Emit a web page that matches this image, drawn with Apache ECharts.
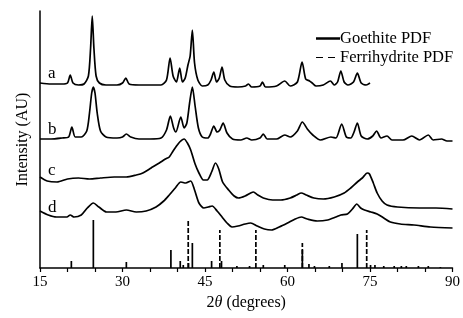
<!DOCTYPE html>
<html>
<head>
<meta charset="utf-8">
<script src="https://cdn.jsdelivr.net/npm/echarts@6/dist/echarts.min.js"></script>
<style>
  html, body { margin: 0; padding: 0; background: #fff; }
  #chart { width: 463px; height: 318px; }
</style>
</head>
<body>
<div id="chart"></div>
<script>
  // x = 2theta (deg), y = intensity in arbitrary units (offset per trace)
  var curveA = [[15,185],[17,184],[19,184],[20.0,185],[20.5,193],[21.0,185],[22,183],[23,184],[23.8,192],[24.2,220],[24.5,252],[24.8,220],[25.2,192],[25.8,185],[27,183],[29,183],[30.0,185],[30.6,190],[31.2,184],[33,183],[35,183],[37,183],[38.0,188],[38.65,210],[39.2,192],[39.8,186],[40.4,200],[40.9,186],[41.4,190],[41.9,203],[42.3,212],[42.7,238],[43.1,205],[43.7,188],[44.5,182],[45.5,183],[46.1,188],[46.6,196],[47.1,186],[47.6,190],[48.1,201],[48.6,188],[49.5,182],[51,181],[52.4,182],[52.9,184],[53.5,181],[55.0,182],[55.45,186],[56,181],[58,182],[59.5,187],[60.5,182],[61.8,186],[62.65,206],[63.3,189],[64,187],[64.5,185],[65.2,182],[66.5,183],[67.8,187],[68.5,183],[69.1,186],[69.7,197],[70.3,186],[71,183],[72.0,186],[72.7,195],[73.4,185],[74.3,183],[75,185]];
  var curveB = [[15,129],[17,129],[19,130],[20.2,131],[20.8,141],[21.4,131],[22.5,131],[23.5,137],[24.0,155],[24.4,175],[24.7,181],[25.0,175],[25.4,155],[26.0,137],[27,131],[29,130],[30.0,131],[30.7,134],[31.5,131],[33,129],[35,129],[37,130],[38.0,138],[38.7,152],[39.3,140],[39.7,136],[40.6,151],[41.2,140],[41.7,145],[42.2,165],[42.7,181],[43.2,162],[43.8,140],[44.5,131],[45.5,130],[46.0,134],[46.6,142],[47.2,136],[47.7,138],[48.3,145],[49.0,135],[50,129],[51.5,128],[52.6,130],[53.5,128],[55.0,130],[55.6,134],[56.3,129],[58,129],[59.5,133],[60.5,131],[61.8,137],[62.7,146],[63.6,139],[64.6,133],[66.0,128],[67.9,131],[68.8,130],[69.85,144],[70.7,131],[71.5,130],[72.1,136],[72.7,145],[73.4,132],[74.5,129],[75.5,132],[76.2,137],[77.0,130],[78.1,132],[79.0,128],[81,128],[82.6,132],[84,128],[85.6,133],[86.5,128],[88,129],[89,127],[90,127]];
  var curveC = [[15,91],[16.3,87],[18.1,86],[20,89],[22,90],[24,89],[26,90],[28.5,91],[30.7,91],[32.5,93],[33.7,95],[35.2,100],[36.7,105],[37.8,109],[38.5,111],[39.2,117],[39.7,121],[40.4,126],[41.2,129],[41.8,125],[42.4,118],[43.2,104],[43.9,95],[44.7,88],[45.4,88],[46.2,96],[46.9,105],[47.5,99],[48.2,86],[49.3,78],[50.3,72],[51.1,70],[52.3,72],[53.3,75],[53.8,76],[54.6,73],[55.6,70],[57.3,68],[58.8,68],[60.5,70],[61.7,73],[62.5,75],[63.4,73],[64.8,70],[66.5,69],[68.5,71],[70.3,75],[71.5,80],[72.7,86],[73.6,90],[74.5,95],[74.9,94],[75.6,85],[76.3,75],[77.2,67],[78.1,63],[80,61],[84,60],[87,60],[90,59]];
  var curveD = [[15,57],[16.5,53],[18,51],[19.9,51],[20.5,53],[21.2,51],[22.5,53],[23.6,60],[24.7,65],[25.7,61],[27.1,56],[28.8,56],[30.7,58],[32.5,56],[34.3,57],[36.1,61],[37.5,67],[38.5,73],[39.6,80],[40.6,86],[41.5,85],[42.4,87],[43.1,78],[43.9,65],[44.8,60],[45.6,61],[46.3,62],[47.2,57],[48.1,51],[49.0,45],[49.9,41],[51.0,42],[52.3,44],[53.3,45],[54.5,42],[55.8,39],[57.1,38],[58.5,41],[60.0,45],[61.4,49],[62.5,51],[63.6,49],[65.4,47],[67.3,48],[68.8,51],[69.7,53],[70.9,54],[71.8,59],[72.6,64],[73.3,60],[74.0,58],[75.2,56],[76.3,54],[77.5,50],[78.7,46],[80.5,44],[83,43],[86,41],[90,40]];

  // reference patterns: [2theta, relative intensity]
  var goethitePDF = [[20.7,7],[24.7,48],[30.7,6],[38.8,18],[40.5,7],[41.05,3],[42.0,5],[42.7,25],[46.2,7],[48.0,7],[50.8,2],[53.1,2],[55.6,3],[59.5,3],[62.7,18],[63.9,4],[64.9,2],[67.6,2],[69.9,5],[72.7,34],[75.1,3],[75.9,3],[77.5,2],[79.4,2],[80.7,2],[81.6,2],[83.8,2],[85.6,2],[87.8,1]];
  var ferrihydritePDF = [[41.95,48],[47.7,38],[54.25,38],[62.7,25],[74.4,38]];

  var traceNames = ['a','b','c','d'];
  var serif = "'Liberation Serif', 'Times New Roman', serif";

  var myChart = echarts.init(document.getElementById('chart'));

  function stickSeries(name, data, dashed) {
    return {
      name: name,
      type: 'custom',
      color: '#000',
      data: data,
      silent: true,
      renderItem: function (params, api) {
        var p0 = api.coord([api.value(0), 0]);
        var p1 = api.coord([api.value(0), api.value(1)]);
        return {
          type: 'line',
          shape: { x1: p0[0], y1: p0[1], x2: p1[0], y2: p1[1] },
          style: { stroke: '#000', lineWidth: 1.7, lineDash: dashed ? [5, 2] : null }
        };
      }
    };
  }

  function curveSeries(data) {
    return {
      type: 'line',
      data: data,
      showSymbol: false,
      smooth: 0.25,
      silent: true,
      lineStyle: { color: '#000', width: 1.7 }
    };
  }

  var labelY = [74, 130, 171, 208];

  var option = {
    animation: false,
    grid: { left: 40, right: 7, top: 11, bottom: 50 },
    legend: {
      orient: 'vertical',
      left: 311,
      top: 25,
      itemWidth: 24,
      itemHeight: 2.5,
      itemGap: 2,
      selectedMode: false,
      textStyle: { color: '#000', fontFamily: serif, fontSize: 16.5, padding: [0, 0, 0, -5] },
      data: [
        { name: 'Goethite PDF', icon: 'rect' },
        { name: 'Ferrihydrite PDF', icon: 'path://M0,0H7V1H0ZM12,0H19V1H12ZM24,1' }
      ]
    },
    xAxis: {
      type: 'value',
      min: 15,
      max: 90,
      interval: 5,
      name: '{n|2}{i|θ}{n| (degrees)}',
      nameLocation: 'middle',
      nameGap: 23,
      nameTextStyle: {
        rich: {
          n: { fontFamily: serif, fontSize: 16, color: '#000' },
          i: { fontFamily: serif, fontSize: 16, color: '#000', fontStyle: 'italic' }
        }
      },
      axisLine: { lineStyle: { color: '#000', width: 1.5 } },
      axisTick: { inside: false, length: 4, lineStyle: { color: '#000', width: 1.2 } },
      axisLabel: {
        color: '#000',
        fontFamily: serif,
        fontSize: 15,
        margin: 7,
        formatter: function (v) { return v % 15 === 0 ? String(v) : ''; }
      },
      splitLine: { show: false }
    },
    yAxis: {
      type: 'value',
      min: 0,
      max: 257,
      name: 'Intensity (AU)',
      nameLocation: 'middle',
      nameGap: 9,
      nameTextStyle: { fontFamily: serif, fontSize: 16, color: '#000' },
      axisLine: { show: true, lineStyle: { color: '#000', width: 1.5 } },
      axisTick: { show: false },
      axisLabel: { show: false },
      splitLine: { show: false }
    },
    graphic: traceNames.map(function (t, i) {
      return {
        type: 'text',
        left: 48,
        top: labelY[i] - 9,
        style: { text: t, fontFamily: serif, fontSize: 17, fill: '#000' }
      };
    }),
    series: [
      curveSeries(curveA),
      curveSeries(curveB),
      curveSeries(curveC),
      curveSeries(curveD),
      stickSeries('Goethite PDF', goethitePDF, false),
      stickSeries('Ferrihydrite PDF', ferrihydritePDF, true)
    ]
  };

  myChart.setOption(option);
  window.onresize = myChart.resize;
</script>
</body>
</html>
